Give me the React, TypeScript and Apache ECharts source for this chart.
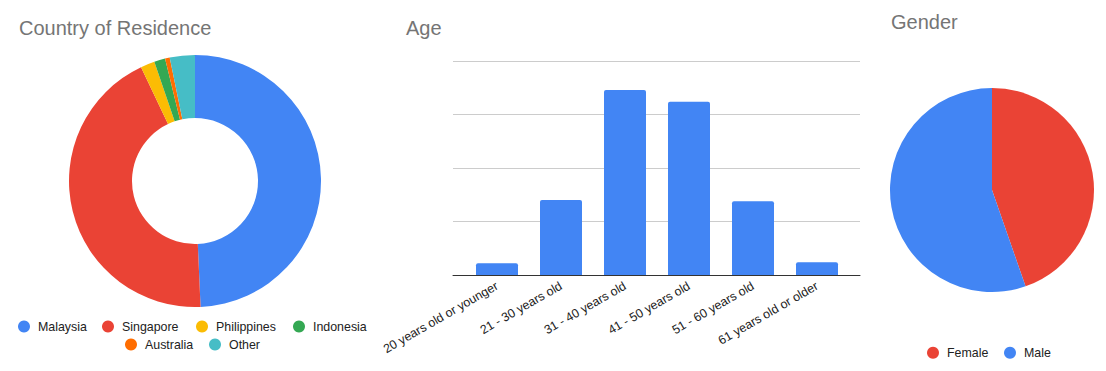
import React, { useEffect, useRef } from "react";
import * as echarts from "echarts";

const FONT = "'Liberation Sans', Arial, sans-serif";

const countryNames = ["Malaysia", "Singapore", "Philippines", "Indonesia", "Australia", "Other"];
const countryValues = [245, 217, 9, 7, 3, 16];
const countryColors = ["#4285F4", "#EA4335", "#FBBC04", "#34A853", "#FF6D01", "#46BDC6"];

const ageCategories = [
  "20 years old or younger",
  "21 - 30 years old",
  "31 - 40 years old",
  "41 - 50 years old",
  "51 - 60 years old",
  "61 years old or older",
];
const ageValues = [11, 70, 173, 162, 69, 12];

const genderNames = ["Female", "Male"];
const genderValues = [222, 275];
const genderColors = ["#EA4335", "#4285F4"];

// legend icon centre positions (layout only)
const countryLegendPos = [
  [27, 326.5], [111, 326.5], [205, 326.5], [302, 326.5], [134, 344.5], [218, 344.5],
];
const genderLegendPos = [[936, 352.7], [1013, 352.7]];

export default function App() {
  const ref = useRef<HTMLDivElement>(null);
  useEffect(() => {
    if (!ref.current) return;
    const chart = echarts.init(ref.current, null, { renderer: "svg" });
    const titleStyle = { fontSize: 20, color: "#757575", fontWeight: "normal" as const, fontFamily: FONT };
    const legendText = { fontSize: 12.4, color: "#222222", fontFamily: FONT };
    const mkLegend = (name: string, pos: number[]) => ({
      data: [name],
      left: pos[0] - 9,
      top: pos[1] - 6,
      padding: 0,
      icon: "circle",
      itemWidth: 18,
      itemHeight: 12,
      textStyle: legendText,
      selectedMode: false,
    });
    chart.setOption({
      animation: false,
      backgroundColor: "#ffffff",
      title: [
        { text: "Country of Residence", left: 19, top: 18, padding: 0, textStyle: titleStyle },
        { text: "Age", left: 406, top: 18, padding: 0, textStyle: titleStyle },
        { text: "Gender", left: 891, top: 12, padding: 0, textStyle: titleStyle },
      ],
      legend: [
        ...countryNames.map((n, i) => mkLegend(n, countryLegendPos[i])),
        ...genderNames.map((n, i) => mkLegend(n, genderLegendPos[i])),
      ],
      grid: [
        { left: 453, width: 407, top: 61, height: 214, containLabel: false },
        { left: 465, width: 384, top: 61, height: 214, containLabel: false },
      ],
      xAxis: [
        {
          type: "category", gridIndex: 0, data: ageCategories, z: 5,
          axisLine: { show: true, lineStyle: { color: "#333333", width: 1 } },
          axisTick: { show: false }, axisLabel: { show: false },
        },
        {
          type: "category", gridIndex: 1, data: ageCategories,
          axisLine: { show: false }, axisTick: { show: false },
          axisLabel: {
            rotate: 30, fontSize: 12.4, color: "#222222", fontFamily: FONT,
            margin: 10, interval: 0,
          },
        },
      ],
      yAxis: [
        {
          type: "value", gridIndex: 0, min: 0, max: 200, interval: 50,
          axisLabel: { show: false }, axisLine: { show: false }, axisTick: { show: false },
          splitLine: { show: true, lineStyle: { color: "#cccccc", width: 1 } },
        },
        {
          type: "value", gridIndex: 1, min: 0, max: 200, interval: 50,
          axisLabel: { show: false }, axisLine: { show: false }, axisTick: { show: false },
          splitLine: { show: false },
        },
      ],
      series: [
        {
          type: "pie",
          name: "Country of Residence",
          center: [195, 181],
          radius: [63, 126],
          startAngle: 90,
          clockwise: true,
          label: { show: false },
          labelLine: { show: false },
          itemStyle: { borderColor: "#ffffff", borderWidth: 0 },
          emphasis: { disabled: true },
          data: countryNames.map((n, i) => ({ name: n, value: countryValues[i], itemStyle: { color: countryColors[i] } })),
        },
        {
          type: "bar",
          xAxisIndex: 1,
          yAxisIndex: 1,
          data: ageValues,
          barWidth: 42,
          itemStyle: { color: "#4285F4", borderRadius: [2, 2, 0, 0] },
          emphasis: { disabled: true },
        },
        {
          type: "pie",
          name: "Gender",
          center: [992, 190],
          radius: [0, 102],
          startAngle: 90,
          clockwise: true,
          label: { show: false },
          labelLine: { show: false },
          emphasis: { disabled: true },
          data: genderNames.map((n, i) => ({ name: n, value: genderValues[i], itemStyle: { color: genderColors[i] } })),
        },
      ],
    });
    return () => chart.dispose();
  }, []);
  return (
    <div
      ref={ref}
      style={{ position: "fixed", left: 0, top: 0, width: 1106, height: 371, background: "#fff" }}
    />
  );
}
